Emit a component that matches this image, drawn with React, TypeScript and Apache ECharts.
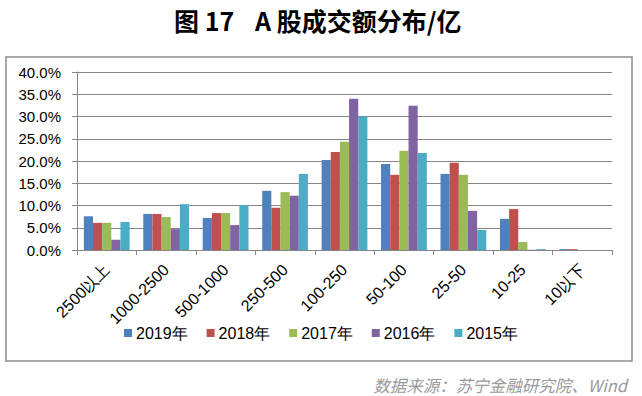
import React, { useEffect, useRef } from "react";
import * as echarts from "echarts";

const categories = ["2500以上", "1000-2500", "500-1000", "250-500", "100-250", "50-100", "25-50", "10-25", "10以下"];
const seriesNames = ["2019年", "2018年", "2017年", "2016年", "2015年"];
const s2019 = [7.6, 8.1, 7.2, 13.3, 20.2, 19.3, 17.1, 7.0, 0.2];
const s2018 = [6.1, 8.1, 8.3, 9.5, 22.0, 16.9, 19.6, 9.2, 0.2];
const s2017 = [6.1, 7.4, 8.3, 13.0, 24.3, 22.3, 16.9, 1.8, 0.0];
const s2016 = [2.3, 4.7, 5.6, 12.2, 34.0, 32.4, 8.8, 0.05, 0.0];
const s2015 = [6.3, 10.3, 10.1, 17.1, 30.0, 21.8, 4.5, 0.2, 0.0];
const colors = ["#4F81BD", "#C0504D", "#9BBB59", "#8064A2", "#4BACC6"];
const titlePart1 = "图 17";
const titlePart2 = "A 股成交额分布/亿";
const source = "数据来源：苏宁金融研究院、Wind";

export default function App() {
  const ref = useRef<HTMLDivElement>(null);
  useEffect(() => {
    if (!ref.current) return;
    const chart = echarts.init(ref.current, null, { renderer: "svg" });
    const data = [s2019, s2018, s2017, s2016, s2015];
    const titleFont = "bold 25px 'Noto Sans CJK SC'";
    chart.setOption({
      animation: false,
      backgroundColor: "#ffffff",
      textStyle: { fontFamily: "Liberation Sans, Arial, sans-serif" },
      graphic: [
        {
          type: "text",
          x: 174,
          y: 20,
          style: { text: titlePart1, font: titleFont, fill: "#000", verticalAlign: "middle", textAlign: "left" },
        },
        {
          type: "text",
          x: 255,
          y: 20,
          style: { text: titlePart2, font: titleFont, fill: "#000", verticalAlign: "middle", textAlign: "left" },
        },
        {
          type: "rect",
          shape: { x: 6, y: 57, width: 626, height: 304 },
          style: { fill: "none", stroke: "#8c8c8c", lineWidth: 1.5 },
          silent: true,
        },
        {
          type: "text",
          x: 627,
          y: 385,
          style: {
            text: source,
            fill: "#9a9a9a",
            font: "italic 16.5px 'Noto Sans CJK SC'",
            textAlign: "right",
            verticalAlign: "middle",
          },
        },
      ],
      legend: {
        data: seriesNames,
        top: 320,
        left: "center",
        itemWidth: 8,
        itemHeight: 8,
        itemGap: 19,
        icon: "rect",
        textStyle: { fontSize: 16, color: "#000", fontFamily: "Liberation Sans, Arial", padding: [0, 0, 0, -1] },
      },
      grid: { left: 77, right: 30, top: 72, bottom: 146, containLabel: false },
      xAxis: {
        type: "category",
        data: categories,
        axisLine: { lineStyle: { color: "#868686" } },
        axisTick: { show: true, length: 5, lineStyle: { color: "#868686" } },
        axisLabel: { rotate: 45, interval: 0, fontSize: 16, color: "#000", margin: 17 },
      },
      yAxis: {
        type: "value",
        min: 0,
        max: 40,
        interval: 5,
        axisLine: { show: true, lineStyle: { color: "#868686" } },
        axisTick: { show: true, length: 5, lineStyle: { color: "#868686" } },
        splitLine: { lineStyle: { color: "#868686" } },
        axisLabel: { fontSize: 15, color: "#000", formatter: (v: number) => v.toFixed(1) + "%", margin: 16 },
      },
      series: data.map((d, i) => ({
        name: seriesNames[i],
        type: "bar",
        data: d,
        itemStyle: { color: colors[i] },
        barGap: "0%",
        barCategoryGap: "23%",
      })),
    });
    return () => chart.dispose();
  }, []);
  return <div ref={ref} style={{ position: "fixed", left: 0, top: 0, width: 642, height: 396 }} />;
}
